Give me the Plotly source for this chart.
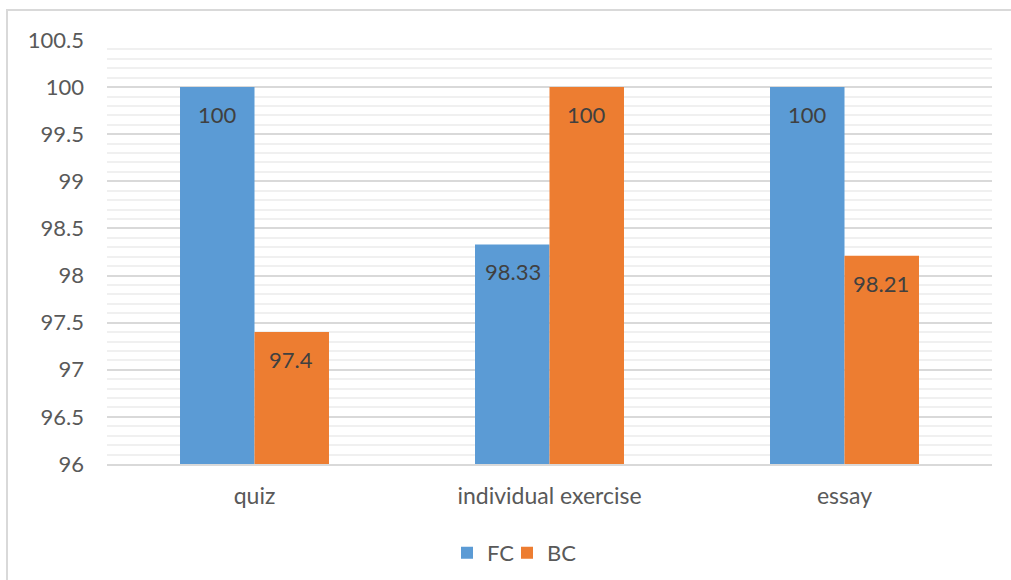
import plotly.graph_objects as go

# Assessment scores per activity, two groups
categories = ["quiz", "individual exercise", "essay"]
fc_scores = [100, 98.33, 100]
bc_scores = [97.4, 100, 98.21]
fc_labels = ["100", "98.33", "100"]
bc_labels = ["97.4", "100", "98.21"]

y_ticks = [96, 96.5, 97, 97.5, 98, 98.5, 99, 99.5, 100, 100.5]
y_tick_text = ["96", "96.5", "97", "97.5", "98", "98.5", "99", "99.5", "100", "100.5"]

FONT = "Lato, 'Open Sans', sans-serif"
TEXT_GREY = "#595959"
LABEL_GREY = "#404040"
BLUE = "#5B9BD5"
ORANGE = "#ED7D31"
FS = 22

fig = go.Figure()
fig.add_trace(go.Bar(name="FC", x=categories, y=fc_scores, marker_color=BLUE,
                     marker_line_width=0, hoverinfo="x+y", legend="legend"))
fig.add_trace(go.Bar(name="BC", x=categories, y=bc_scores, marker_color=ORANGE,
                     marker_line_width=0, hoverinfo="x+y", legend="legend2"))

# value labels just inside the top of each bar
annotations = []
for vals, labels, offset in ((fc_scores, fc_labels, -0.125),
                             (bc_scores, bc_labels, 0.125)):
    for i, (v, t) in enumerate(zip(vals, labels)):
        annotations.append(dict(
            x=i + offset, y=v, xref="x", yref="y", text=t, showarrow=False,
            yanchor="top", yshift=-12,
            font=dict(family=FONT, size=FS, color=LABEL_GREY)))

PLOT_L, PLOT_W = 107, 885
legend_common = dict(orientation="h", xanchor="left", y=-0.16, yanchor="top",
                     font=dict(family=FONT, size=FS, color=TEXT_GREY),
                     itemwidth=30, bgcolor="rgba(0,0,0,0)")

fig.update_layout(
    width=1011, height=580,
    margin=dict(l=PLOT_L, r=19, t=40, b=116, autoexpand=False),
    paper_bgcolor="white", plot_bgcolor="white",
    barmode="group", bargap=0.495, bargroupgap=0,
    font=dict(family=FONT, size=FS, color=TEXT_GREY),
    showlegend=True,
    legend=dict(x=(447 - PLOT_L) / PLOT_W, **legend_common),
    legend2=dict(x=(507 - PLOT_L) / PLOT_W, **legend_common),
    annotations=annotations,
    shapes=[dict(type="rect", xref="paper", yref="paper",
                 x0=-0.1130, x1=1.03, y0=-0.30, y1=1.0708,
                 line=dict(color="#d9d9d9", width=2), fillcolor="rgba(0,0,0,0)",
                 layer="below")],
)

fig.update_xaxes(
    type="category", showgrid=False, zeroline=False, automargin=False,
    showline=True, linecolor="#d9d9d9", linewidth=2,
    ticks="", ticklabelstandoff=10,
    tickfont=dict(family=FONT, size=FS + 1, color=TEXT_GREY),
)
fig.update_yaxes(
    range=[96, 100.5], tickmode="array", tickvals=y_ticks, ticktext=y_tick_text,
    showgrid=True, gridcolor="#d9d9d9", gridwidth=2, automargin=False,
    minor=dict(dtick=0.1, tick0=96, showgrid=True, gridcolor="#f0f0f0", gridwidth=2),
    zeroline=False, showline=False, ticks="", ticklabelstandoff=22,
    tickfont=dict(family=FONT, size=FS, color=TEXT_GREY),
)

fig.write_html("out.html")
